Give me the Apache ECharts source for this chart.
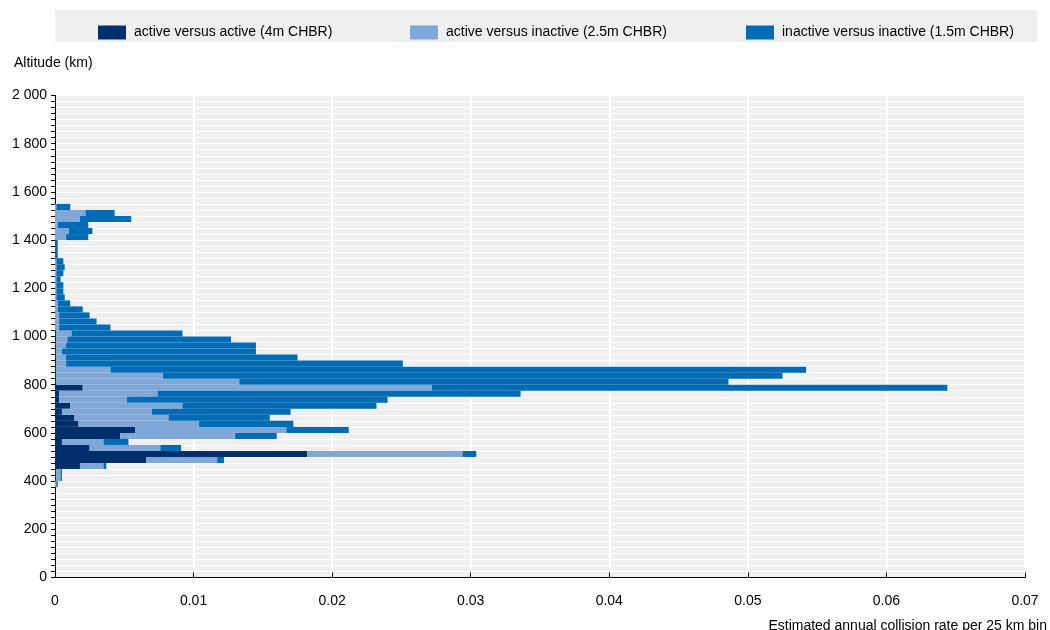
<!DOCTYPE html>
<html>
<head>
<meta charset="utf-8">
<script src="https://cdn.jsdelivr.net/npm/echarts@6/dist/echarts.min.js"></script>
<style>
  html, body { margin: 0; padding: 0; background: #ffffff; }
  #chart { width: 1050px; height: 630px; }
</style>
</head>
<body>
<div id="chart"></div>
<script>
// Altitude bins of 25 km (lower edge of each bin, km)
const altitudeBins = [
  0, 25, 50, 75, 100, 125, 150, 175, 200, 225,
  250, 275, 300, 325, 350, 375, 400, 425, 450, 475,
  500, 525, 550, 575, 600, 625, 650, 675, 700, 725,
  750, 775, 800, 825, 850, 875, 900, 925, 950, 975,
  1000, 1025, 1050, 1075, 1100, 1125, 1150, 1175, 1200, 1225,
  1250, 1275, 1300, 1325, 1350, 1375, 1400, 1425, 1450, 1475,
  1500, 1525, 1550, 1575, 1600, 1625, 1650, 1675, 1700, 1725,
  1750, 1775, 1800, 1825, 1850, 1875, 1900, 1925, 1950, 1975
];

// Estimated annual collision rate per bin, by encounter type
const activeVsActive = [
  0, 0, 0, 0, 0, 0, 0, 0, 0, 0,
  0, 0, 0, 0, 0, 0, 0.0001, 0.0001, 0.0018, 0.0066,
  0.0182, 0.0025, 0.0005, 0.0047, 0.0058, 0.0017, 0.0014, 0.0005, 0.0011, 0.0003,
  0.0003, 0.0020, 0.0001, 0.0001, 0.0001, 0.0001, 0.0001, 0.0001, 0.0001, 0.0001,
  0.0001, 0, 0, 0, 0, 0, 0, 0, 0, 0,
  0, 0, 0, 0, 0, 0, 0, 0, 0, 0,
  0, 0, 0, 0, 0, 0, 0, 0, 0, 0,
  0, 0, 0, 0, 0, 0, 0, 0, 0, 0
];

const activeVsInactive = [
  0, 0, 0, 0, 0, 0, 0, 0, 0, 0,
  0, 0, 0, 0, 0, 0.0001, 0.0003, 0.0003, 0.0017, 0.0051,
  0.0112, 0.0051, 0.0030, 0.0083, 0.0109, 0.0087, 0.0068, 0.0065, 0.0081, 0.0049,
  0.0071, 0.0252, 0.0132, 0.0077, 0.0039, 0.0007, 0.0007, 0.0004, 0.0007, 0.0008,
  0.0011, 0.0003, 0.0003, 0.0003, 0.0002, 0.0002, 0.0001, 0.0001, 0.0001, 0.0001,
  0.0001, 0.0001, 0.0001, 0, 0, 0, 0.0008, 0.0010, 0.0002, 0.0018,
  0.0022, 0.0001, 0, 0, 0, 0, 0, 0, 0, 0,
  0, 0, 0, 0, 0, 0, 0, 0, 0, 0
];

const inactiveVsInactive = [
  0, 0, 0, 0, 0, 0, 0, 0, 0, 0,
  0, 0, 0, 0, 0, 0.0001, 0.0001, 0.0001, 0.0002, 0.0005,
  0.0010, 0.0015, 0.0018, 0.0030, 0.0045, 0.0068, 0.0073, 0.0100, 0.0140, 0.0188,
  0.0262, 0.0372, 0.0353, 0.0447, 0.0502, 0.0243, 0.0167, 0.0140, 0.0137, 0.0118,
  0.0080, 0.0037, 0.0027, 0.0022, 0.0018, 0.0009, 0.0006, 0.0005, 0.0005, 0.0003,
  0.0005, 0.0006, 0.0005, 0.0002, 0.0002, 0.0002, 0.0016, 0.0017, 0.0022, 0.0037,
  0.0021, 0.0010, 0, 0, 0, 0, 0, 0, 0, 0,
  0, 0, 0, 0, 0, 0, 0, 0, 0, 0
];

const seriesNames = [
  'active versus active (4m CHBR)',
  'active versus inactive (2.5m CHBR)',
  'inactive versus inactive (1.5m CHBR)'
];
const seriesColors = ['#002F6C', '#7FA8D9', '#006BB6'];

const FONT = 'Liberation Sans, Arial, sans-serif';

const chart = echarts.init(document.getElementById('chart'), null, { renderer: 'canvas' });

function legendAt(left, idx) {
  return {
    left: left,
    top: 20.5,
    itemWidth: 28,
    itemHeight: 14,
    icon: 'rect',
    data: [seriesNames[idx]],
    selectedMode: false,
    textStyle: { fontFamily: FONT, fontSize: 14, color: '#000', padding: [0, 0, 0, 3] }
  };
}

function thousands(v) {
  return String(v).replace(/\B(?=(\d{3})+(?!\d))/g, ' ');
}

const option = {
  animation: false,
  textStyle: { fontFamily: FONT },
  graphic: [
    { type: 'rect', z: -1, shape: { x: 55, y: 10, width: 982, height: 32 }, style: { fill: '#efefef' } },
    { type: 'text', left: 14, top: 56, style: { text: 'Altitude (km)', font: '14px ' + FONT, fill: '#000' } },
    { type: 'text', right: 3, top: 619, style: { text: 'Estimated annual collision rate per 25 km bin', font: '14px ' + FONT, fill: '#000' } }
  ],
  legend: [legendAt(93, 0), legendAt(405, 1), legendAt(741, 2)],
  grid: {
    left: 55, right: 25, top: 95.5, bottom: 52.5,
    show: true, backgroundColor: '#efefef', borderWidth: 0,
    containLabel: false
  },
  xAxis: {
    type: 'value',
    min: 0, max: 0.07, interval: 0.01,
    axisLine: { show: true, lineStyle: { color: '#000', width: 1 } },
    axisTick: { show: true, inside: true, length: 5, lineStyle: { color: '#000' } },
    axisLabel: {
      margin: 17, fontSize: 14, color: '#000', fontFamily: FONT,
      formatter: function (v) { return v === 0 ? '0' : String(Math.round(v * 100) / 100); }
    },
    splitLine: { show: true, lineStyle: { color: '#ffffff', width: 2 } }
  },
  yAxis: [
    {
      type: 'value',
      min: 0, max: 2000, interval: 25,
      axisLine: { show: true, lineStyle: { color: '#000', width: 1 } },
      axisTick: { show: true, inside: false, length: 4, lineStyle: { color: '#000' } },
      axisLabel: {
        margin: 8, fontSize: 14, color: '#000', fontFamily: FONT,
        formatter: function (v) { return v % 200 === 0 ? thousands(v) : ''; }
      },
      splitLine: { show: true, lineStyle: { color: '#ffffff', width: 1 } }
    },
    {
      type: 'category',
      data: altitudeBins,
      boundaryGap: true,
      axisLine: { show: false },
      axisTick: { show: false },
      axisLabel: { show: false },
      splitLine: { show: false }
    }
  ],
  series: [
    { name: seriesNames[0], type: 'bar', stack: 'rate', yAxisIndex: 1, data: activeVsActive, itemStyle: { color: seriesColors[0] }, barCategoryGap: '0%' },
    { name: seriesNames[1], type: 'bar', stack: 'rate', yAxisIndex: 1, data: activeVsInactive, itemStyle: { color: seriesColors[1] }, barCategoryGap: '0%' },
    { name: seriesNames[2], type: 'bar', stack: 'rate', yAxisIndex: 1, data: inactiveVsInactive, itemStyle: { color: seriesColors[2] }, barCategoryGap: '0%' }
  ]
};

chart.setOption(option);
</script>
</body>
</html>
